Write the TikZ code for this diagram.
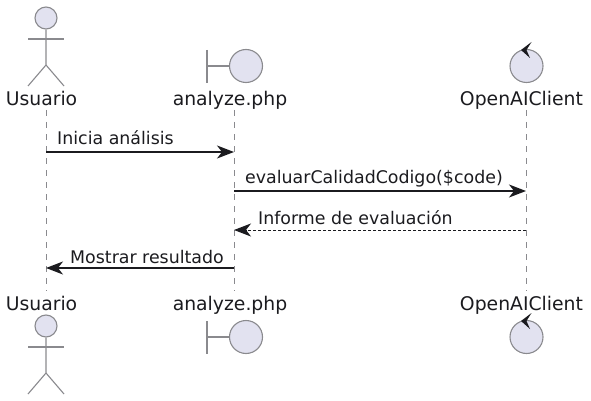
\documentclass[tikz,border=0pt]{standalone}
\usepackage{fontspec}
\setmainfont{DejaVu Sans}
\usepackage{xcolor}
\usetikzlibrary{arrows.meta, positioning, calc}
\definecolor{iconfill}{HTML}{E2E2F0}
\definecolor{iconline}{HTML}{8A8A8E}
\definecolor{textdark}{HTML}{1B1B1F}
\tikzstyle{party} = [inner sep=0pt, text=textdark, font=\fontsize{18.8}{21}\selectfont, anchor=base]
\tikzstyle{msg} = [inner sep=0pt, text=textdark, font=\fontsize{17.4}{20}\selectfont, anchor=base west]
\tikzstyle{head} = [circle, draw=iconline, fill=iconfill, line width=1.1pt, minimum size=22pt, inner sep=0pt]
\tikzstyle{ball} = [circle, draw=iconline, fill=iconfill, line width=1.1pt, minimum size=33pt, inner sep=0pt]
\tikzstyle{icon} = [draw=iconline, line width=1.1pt]
\tikzstyle{lifeline} = [draw=iconline, line width=1pt, dash pattern=on 6pt off 6pt]
\tikzstyle{arrow} = [draw=textdark, line width=1.3pt, -{Stealth[length=17pt,width=13pt,inset=5pt]}]
\tikzstyle{reply} = [arrow, line width=1pt, dash pattern=on 3pt off 2pt]
\begin{document}
\begin{tikzpicture}[x=1pt,y=-1pt]
    \useasboundingbox (0,0) rectangle (591,401);
    \node (usuarioTop) [party] at (41.5,106) {Usuario};
    \node (analyzeTop) [party] at (230,106) {analyze.php};
    \node (clientTop) [party] at (521.5,106) {OpenAIClient};
    \node (usuarioBot) [party] at (41.5,310) {Usuario};
    \node (analyzeBot) [party] at (230,310) {analyze.php};
    \node (clientBot) [party] at (521.5,310) {OpenAIClient};

    % lifelines: ends, then one stop per message
    \foreach \who/\xa in {u/46,a/234,c/526} {
      \coordinate (\who0) at (\xa,110);
      \coordinate (\who1) at (\xa,152);
      \coordinate (\who2) at (\xa,191);
      \coordinate (\who3) at (\xa,230);
      \coordinate (\who4) at (\xa,268);
      \coordinate (\who5) at (\xa,291);
      \draw [lifeline] (\who0) -- (\who5);
    }

    % icons, top row then bottom row
    \foreach \ya/\yb/\side in {0/0/Top,308/271/Bot} {
      \node (head\side) [head] at (46,18+\ya) {};
      \coordinate (hip\side) at (46,65+\ya);
      \draw [icon] (head\side.south) -- (hip\side) -- (28,86+\ya);
      \draw [icon] (hip\side) -- (64,86+\ya);
      \draw [icon] (28,39+\ya) -- (64,39+\ya);
      \node (edge\side) [ball] at (246,66+\yb) {};
      \node (ctrl\side) [ball] at (526.5,66+\yb) {};
      \coordinate (bar\side) at (207,66+\yb);
      \draw [icon] (207,50+\yb) -- (207,83+\yb);
      \draw [icon] (bar\side) -- (edge\side);
      \fill [textdark] (531.5,42+\yb) -- (521,50+\yb) -- (530,58+\yb) -- (526.5,50+\yb) -- cycle;
    }

    % messages
    \draw [arrow] (u1) -- (a1);
    \node (m1) [msg] at (57,144) {Inicia análisis};
    \draw [arrow] (a2) -- (c2);
    \node (m2) [msg] at (245,183) {evaluarCalidadCodigo(\$code)};
    \draw [reply] (c3) -- (a3);
    \node (m3) [msg] at (258,224) {Informe de evaluación};
    \draw [arrow] (a4) -- (u4);
    \node (m4) [msg] at (70,263) {Mostrar resultado};
  \end{tikzpicture}
\end{document}
